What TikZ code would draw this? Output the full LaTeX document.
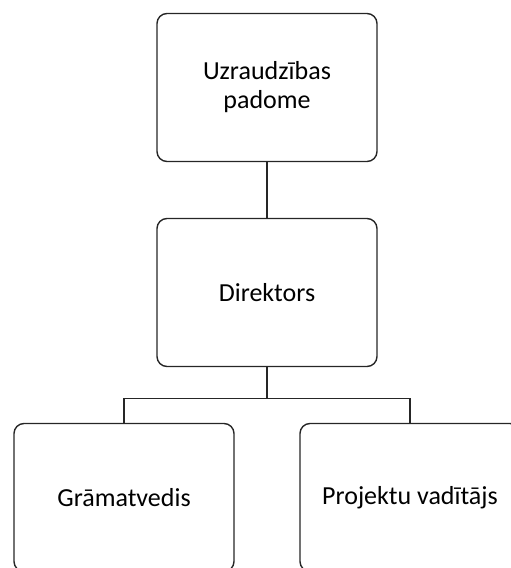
\documentclass[tikz,border=0pt]{standalone}
\usepackage{fontspec}
\setmainfont{Carlito}
\usepackage{tikz}

\begin{document}
\begin{tikzpicture}[x=1pt,y=1pt,
  level distance=205pt,
  level 2/.style={sibling distance=286pt},
  every node/.append style={rectangle,rounded corners=10pt,draw=black!85,line width=1.4pt,
    minimum width=220pt, minimum height=148pt, align=center,
    font=\fontsize{26}{29}\selectfont, text=black},
  edge from parent/.style={draw=black!85,line width=1.4pt},
  edge from parent path={(\tikzparentnode.south) -- ++(0,-31) -| (\tikzchildnode.north)}]
\useasboundingbox (0,0) rectangle (511,-568);
\node (board) at (267,-87.5) {Uzraudzības\\padome}
  child { node (director) {Direktors}
    child { node (accountant) {Grāmatvedis} }
    child { node (manager) {Projektu vadītājs} }
  };
\end{tikzpicture}
\end{document}
